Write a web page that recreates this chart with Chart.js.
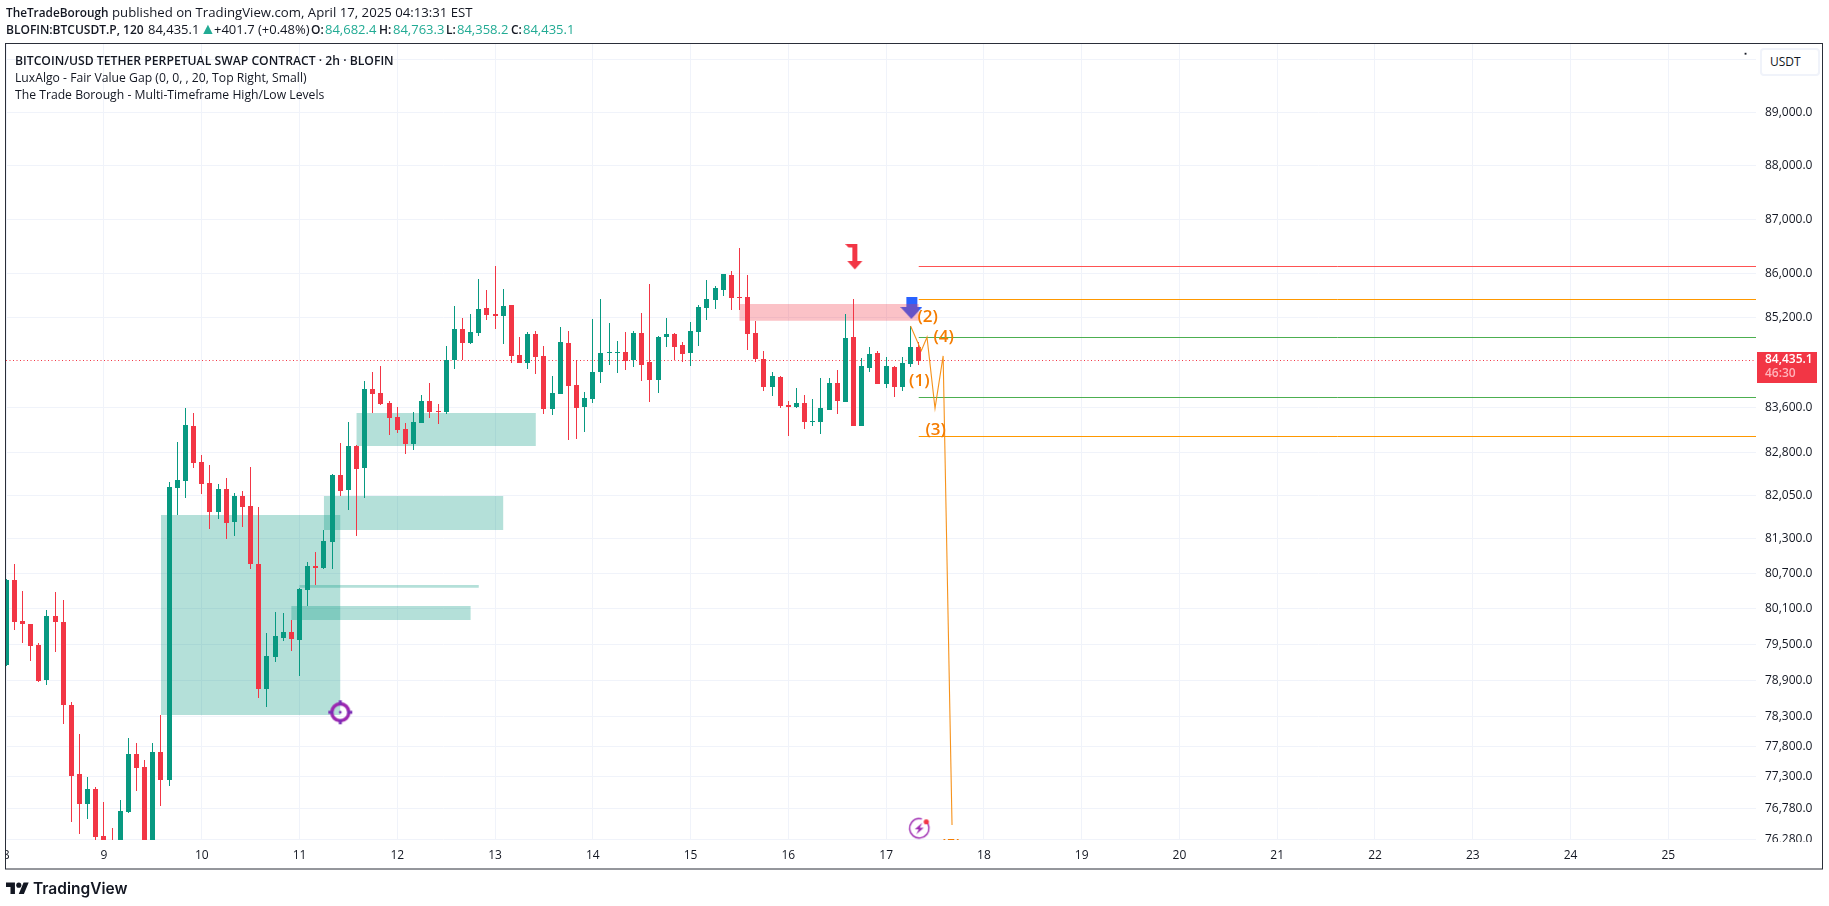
<!DOCTYPE html>
<html><head><meta charset="utf-8">
<script src="https://cdn.jsdelivr.net/npm/chart.js@4/dist/chart.umd.js"></script>
<style>
html,body{margin:0;padding:0;background:#fff;overflow:hidden;width:1829px;height:906px}
#wrap{position:relative;width:1829px;height:906px;font-family:"Open Sans",sans-serif;color:#131722}
canvas{position:absolute;left:0;top:0}
.t{position:absolute;white-space:pre;line-height:17px;font-size:13px}
.h{font-weight:600;font-size:12px}
.l{font-size:12.2px}
.g{color:#22ab94}
#usdt{position:absolute;left:1760px;top:48px;width:56px;height:24px;border:2px solid #f0f3fa;border-radius:4px;background:#fff;font-size:12px;line-height:24px;text-indent:8px;box-sizing:content-box}
#last{position:absolute;left:1757px;top:352px;width:60px;height:31px;background:#f23645;color:#fff;font-size:12px}
#last div{position:absolute;left:8px;line-height:14px;white-space:pre}
</style></head><body>
<div id="wrap">
<canvas id="c" width="1829" height="906"></canvas>
<div class="t h" style="left:6px;top:4px;font-size:11.8px">TheTradeBorough</div>
<div class="t" style="left:112px;top:4px;font-size:13.2px">published on TradingView.com, April 17, 2025 04:13:31 EST</div>
<div class="t h" style="left:6px;top:21px">BLOFIN:BTCUSDT.P, 120</div>
<div class="t" style="left:148px;top:21px">84,435.1</div>
<div class="t g" style="left:200px;top:20px;font-size:16px">▲</div>
<div class="t" style="left:214px;top:21px">+401.7 (+0.48%)</div>
<div class="t h" style="left:311px;top:21px">O:</div><div class="t g" style="left:325px;top:21px">84,682.4</div>
<div class="t h" style="left:379px;top:21px">H:</div><div class="t g" style="left:393px;top:21px">84,763.3</div>
<div class="t h" style="left:446px;top:21px">L:</div><div class="t g" style="left:457px;top:21px">84,358.2</div>
<div class="t h" style="left:511px;top:21px">C:</div><div class="t g" style="left:523px;top:21px">84,435.1</div>
<div class="t h l" style="left:15px;top:52px">BITCOIN/USD TETHER PERPETUAL SWAP CONTRACT · 2h · BLOFIN</div>
<div class="t l" style="left:15px;top:69px">LuxAlgo - Fair Value Gap (0, 0, , 20, Top Right, Small)</div>
<div class="t l" style="left:15px;top:86px">The Trade Borough - Multi-Timeframe High/Low Levels</div>
<div id="usdt">USDT</div>
<div id="last"><div style="top:0px;font-weight:600">84,435.1</div><div style="top:14px;color:#ffb3ba;font-weight:600">46:30</div></div>
<svg style="position:absolute;left:6px;top:880px" width="23" height="18" viewBox="0 0 36 28"><path fill="#131722" d="M14 22H7V11H0V4h14v18zM28 22h-8l7.5-18h8L28 22z"/><circle fill="#131722" cx="20" cy="8" r="4"/></svg>
<div class="t" style="left:33px;top:879px;font-family:Inter,sans-serif;font-weight:600;font-size:15.5px;line-height:20px;color:#131722">TradingView</div>
</div>
<script>
// OHLC of the 2h candles, oldest first (first candle is at day 8, 12 candles per day)
const opens=[79155,80595,79897,79846,79492,78904,79982,79880,78485,77346,76854,77100,76334,76150,75950,76724,77674,77461,76000,77707,77247,82183,82305,83271,82637,82270,81766,82165,81593,82043,81869,80869,78753,79290,79610,79711,79576,80423,80835,80800,81247,82410,82148,82918,82532,83927,83856,83678,83430,83218,82953,83324,83713,83537,83519,84445,85003,84750,84931,85382,85273,85237,85436,84535,84392,84913,84517,83572,83838,84750,83999,83607,83749,84231,84570,84570,84588,84445,84931,84410,84088,84859,84913,84714,84570,84949,85382,85526,85709,85982,85581,85581,84931,84463,83963,84142,83643,83607,83678,83342,83342,83554,84035,83696,84859,83271,84303,84570,84017,84320,83963,84374,84682.4];
const highs=[80610,80869,80406,79846,79525,80083,80389,80252,78535,78005,77297,77132,76887,76464,76919,77939,77856,77576,77856,78320,82288,82988,83590,83501,82760,82585,82253,82358,82095,82130,82550,81852,79694,80049,80032,79914,80460,80903,81075,81455,82427,82971,83342,82930,84070,84231,84338,83713,83607,83324,83519,83820,84035,83660,84696,85418,85201,85273,85909,85709,86146,85727,85440,84859,84949,84967,84696,84160,85039,84967,84445,83874,85183,85544,85111,84786,84949,84967,85291,85818,84877,85201,84931,84768,85129,85436,85891,85781,86005,86055,86474,85982,85147,84606,84231,84160,83713,83945,83820,83749,84124,84124,84267,85273,85544,84481,84678,84606,84499,84338,84499,85057,84763.3];
const lows=[79140,79745,79525,79222,78870,78820,79373,78171,76562,76367,76610,76188,75600,75800,75850,76708,77067,75900,75900,76822,77149,81714,82008,82532,82078,81472,81645,81299,81351,81506,80783,78602,78452,79206,79560,79390,78971,80151,80509,80790,80783,82043,81800,81351,82008,83501,83643,83112,83148,82777,82847,83315,83413,83307,83484,84285,84445,84740,84877,85165,85003,84732,84392,84385,84285,84195,83484,83466,83830,83024,83041,83165,83678,84035,84356,84213,84267,84320,84070,83696,83856,84678,84445,84410,84338,84696,85165,85364,85599,85346,85346,84624,84410,83892,83803,83590,83095,83590,83218,83271,83130,83545,83484,83690,83265,83265,84231,84010,83945,83784,83892,84320,84358.2];
const closes=[80595,79886,79852,79475,78887,79982,79880,78485,77313,76854,77100,76318,75785,75950,76740,77674,77444,76000,77707,77247,82200,82323,83289,82620,82253,81766,82165,81576,82043,81852,80869,78753,79306,79644,79711,79593,80440,80835,80806,81265,82410,82130,82918,82515,83927,83838,83660,83413,83201,82953,83342,83713,83519,83519,84445,85003,84750,84949,85364,85255,85237,85418,84517,84392,84913,84499,83572,83856,84768,83981,83590,83767,84231,84570,84588,84588,84428,84931,84356,84088,84859,84913,84678,84553,84967,85400,85544,85745,86000,85562,85562,84913,84463,83963,84160,83625,83607,83678,83342,83360,83590,84035,83713,84841,83271,84338,84553,84017,84338,83963,84392,84678,84435.1];

const firstDay=8, candlesPerDay=12;
const candleDay=i=>firstDay+i/candlesPerDay;

// fair value gaps: first candle, last candle, upper price, lower price
const gapStart=[19,39,43,36,35];
const gapEnd=[41,61,65,58,57];
const gapTop=[81714,82043,83501,80509,80151];
const gapBottom=[78320,81455,82918,80460,79914];
// supply zone
const zoneStart=90, zoneEnd=112, zoneTop=85454, zoneBottom=85152;

// multi-timeframe levels
const levelPrices=[86141,85539,84853,83779,83089];
const levelColors=['#ff5252','#ff9800','#4caf50','#4caf50','#ff9800'];
const levelStartCandle=112;
const lastPrice=84435.1;

// Elliott wave path
const waveDays=[17.25,17.36,17.418,17.5,17.583,17.674];
const wavePrices=[85057,84611,84853,83584,84517,76513];
const waveNames=['(1)','(2)','(3)','(4)','(5)'];
const waveNameDays=[17.339,17.425,17.507,17.589,17.664];
const waveNamePrices=[84075,85207,83188,84859,76172];

const dayTicks=[8,9,10,11,12,13,14,15,16,17,18,19,20,21,22,23,24,25];
const priceTicks=[90000,89000,88000,87000,86000,85200,83600,82800,82050,81300,80700,80100,79500,78900,78300,77800,77300,76780,76280];
const hiddenPriceLabels=[90000];

const xMin=7.998, xMax=25.897, yMin=76269, yMax=90299;
const UP='#089981', DOWN='#f23645', GRID='#f0f3fa';

function icon(w,h,draw){const c=document.createElement('canvas');c.width=w;c.height=h;draw(c.getContext('2d'));return c;}
const redArrow=icon(19,27,g=>{g.fillStyle=DOWN;g.beginPath();
 g.moveTo(0,0);g.lineTo(12,0);g.lineTo(12,17);g.lineTo(17,17);g.lineTo(9.5,25.5);g.lineTo(2,17);g.lineTo(7,17);g.lineTo(7,3.5);g.lineTo(3,3.5);g.closePath();g.fill();});
const blueArrow=icon(22,24,g=>{g.fillStyle='#2962ff';g.fillRect(6,1,11,11);g.beginPath();g.moveTo(0,11);g.lineTo(22,11);g.lineTo(11,23);g.closePath();g.fill();});
const crosshair=icon(26,26,g=>{g.strokeStyle='#9c27b0';g.lineWidth=3.4;g.beginPath();g.arc(13,13,8.5,0,7);g.stroke();
 g.fillStyle='#7b2fb5';g.fillRect(11.5,1,3,5);g.fillRect(11.5,20,3,5);g.fillRect(1,11.5,5,3);g.fillRect(20,11.5,5,3);g.beginPath();g.arc(13,13,1.4,0,7);g.fill();});
const bolt=icon(26,26,g=>{g.strokeStyle='#9c27b0';g.lineWidth=1.4;g.beginPath();g.arc(13,13,9.7,-0.9,-1.25+2*Math.PI-0.05);g.stroke();
 g.fillStyle='#9c27b0';g.beginPath();g.moveTo(16,7.5);g.lineTo(8.5,14);g.lineTo(12.5,14);g.lineTo(10,19);g.lineTo(17.5,12.5);g.lineTo(13.5,12.5);g.closePath();g.fill();
 g.fillStyle=DOWN;g.beginPath();g.arc(20,6.5,2.6,0,7);g.fill();});
const markers=[
 {x:16.68,y:86301,style:redArrow},{x:11.417,y:78364,style:crosshair},{x:17.339,y:76459,style:bolt}];

const idx=opens.map((_,i)=>i);
const rect=(a,b,t,u)=>[{x:candleDay(a),y:t},{x:candleDay(b),y:t},{x:candleDay(b),y:u},{x:candleDay(a),y:u},{x:candleDay(a),y:t}];
const boxDs=(a,b,t,u,col,order)=>({type:'line',data:rect(a,b,t,u),fill:'shape',backgroundColor:col,borderWidth:0,borderColor:'transparent',pointRadius:0,tension:0,order});
const colors=idx.map(i=>closes[i]>=opens[i]?UP:DOWN);

const datasets=[
 {type:'line',showLine:false,data:[{x:17.258,y:85382}],pointStyle:blueArrow,pointRadius:5,order:60},
 ...gapStart.map((s,i)=>boxDs(s,gapEnd[i],gapTop[i],gapBottom[i],'rgba(8,153,129,0.3)',50)),
 boxDs(zoneStart,zoneEnd,zoneTop,zoneBottom,'rgba(242,54,69,0.3)',50),
 {type:'line',snapLine:true,data:[{x:xMin,y:lastPrice},{x:xMax,y:lastPrice}],borderColor:DOWN,borderWidth:1,borderDash:[1,2.5],pointRadius:0,order:40},
 {type:'bar',data:idx.map(i=>({x:candleDay(i),y:[lows[i],highs[i]]})),backgroundColor:colors,grouped:false,categoryPercentage:1,barPercentage:0.13,maxBarThickness:1,minBarLength:1,order:30,snap:true},
 {type:'bar',data:idx.map(i=>({x:candleDay(i),y:[Math.min(opens[i],closes[i]),Math.max(opens[i],closes[i])]})),backgroundColor:colors,grouped:false,categoryPercentage:1,barPercentage:0.62,maxBarThickness:5,minBarLength:1,order:20,snap:true},
 ...levelPrices.map((p,i)=>({type:'line',snapLine:true,data:[{x:candleDay(levelStartCandle),y:p},{x:xMax,y:p}],borderColor:levelColors[i],borderWidth:1,pointRadius:0,order:15})),
 {type:'line',data:waveDays.map((d,i)=>({x:d,y:wavePrices[i]})),borderColor:'rgba(245,140,15,0.95)',borderWidth:1.1,pointRadius:0,tension:0,order:10},
 ...markers.map(m=>({type:'line',showLine:false,data:[{x:m.x,y:m.y}],pointStyle:m.style,pointRadius:5,order:5})),
 {type:'line',showLine:false,data:[{x:25.79,y:90113}],pointStyle:'rect',pointRadius:1.3,backgroundColor:'#131722',borderWidth:0,order:4}
];

const snapPlugin={id:'snap',beforeDatasetsDraw(ch){
 ch.data.datasets.forEach((d,i)=>{
  if(d.snap)ch.getDatasetMeta(i).data.forEach(el=>{
   el.x=Math.floor(el.x)+0.5;
   let a=Math.round(el.y),b=Math.round(el.base);
   if(Math.abs(a-b)<1)b=a+1;
   el.y=a;el.base=b;});
  if(d.snapLine)ch.getDatasetMeta(i).data.forEach(el=>{el.y=Math.floor(el.y)+0.5;});
 });}};

const drawPlugin={id:'overlay',
 afterDatasetsDraw(ch){const g=ch.ctx,a=ch.chartArea,x=ch.scales.x,y=ch.scales.y;
  g.save();g.beginPath();g.rect(a.left,a.top,a.right-a.left,a.bottom-a.top);g.clip();
  g.font='600 17px "Open Sans"';g.textAlign='center';g.textBaseline='middle';g.fillStyle='#f57c00';
  waveNames.forEach((n,i)=>g.fillText(n,x.getPixelForValue(waveNameDays[i]),y.getPixelForValue(waveNamePrices[i])));
  g.restore();},
 afterDraw(ch){const g=ch.ctx;g.save();g.fillStyle='#fff';
  g.fillRect(0,841,5.5,28);g.fillRect(1757,842,65,27);
  g.strokeStyle='#2a2e39';g.lineWidth=1;g.strokeRect(5.5,43.5,1817,825.5);g.restore();}};

new Chart(document.getElementById('c'),{
 type:'bar',
 data:{datasets},
 plugins:[snapPlugin,drawPlugin],
 options:{responsive:false,animation:false,devicePixelRatio:1,
  layout:{padding:{left:6,top:44,right:7,bottom:37}},
  plugins:{legend:{display:false},title:{display:false},tooltip:{enabled:false}},
  scales:{
   x:{type:'linear',position:'bottom',min:xMin,max:xMax,offset:false,bounds:'data',
    grid:{color:GRID,lineWidth:1,drawTicks:false,offset:false},border:{display:false},
    afterBuildTicks:s=>{s.ticks=dayTicks.map(v=>({value:v}));},
    afterFit:s=>{s.height=29;s.paddingLeft=0;s.paddingRight=0;},
    ticks:{autoSkip:false,maxRotation:0,padding:8,color:'#131722',font:{family:'"Open Sans"',size:12},callback:v=>String(v)}},
   y:{type:'logarithmic',position:'right',min:yMin,max:yMax,bounds:'data',
    grid:{color:GRID,lineWidth:1,drawTicks:false},border:{display:false},
    afterBuildTicks:s=>{s.ticks=priceTicks.map(v=>({value:v}));},
    afterFit:s=>{s.width=66;s.paddingTop=0;s.paddingBottom=0;},
    ticks:{autoSkip:false,padding:9,color:'#131722',font:{family:'"Open Sans"',size:12},
     callback:v=>hiddenPriceLabels.includes(v)?'':v.toLocaleString('en-US',{minimumFractionDigits:1,maximumFractionDigits:1})}}
  }}
});
</script></body></html>
